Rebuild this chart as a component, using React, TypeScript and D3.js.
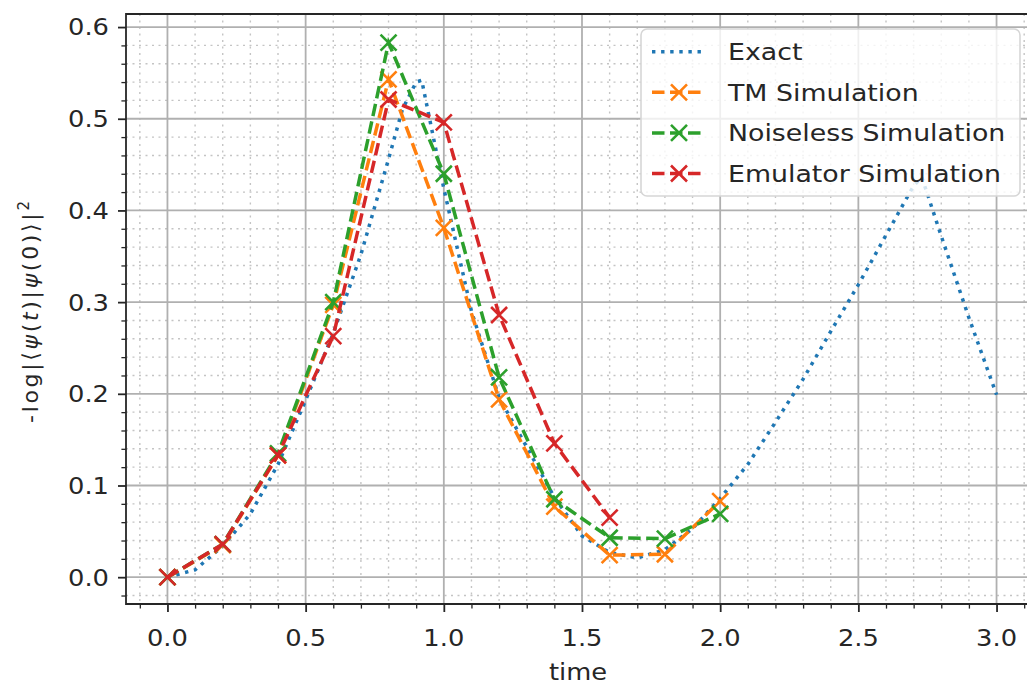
import { useEffect, useRef } from 'react'
import * as d3 from 'd3'

// ── Data ──────────────────────────────────────────────────────────────────────
const SIM_TIME = [0, 0.2, 0.4, 0.6, 0.8, 1.0, 1.2, 1.4, 1.6, 1.8, 2.0]
const TM_VALUES = [0, 0.035, 0.133, 0.297, 0.543, 0.381, 0.194, 0.077, 0.024, 0.025, 0.083]
const NOISELESS_VALUES = [0, 0.036, 0.135, 0.3, 0.583, 0.44, 0.218, 0.085, 0.043, 0.042, 0.069]
const EMULATOR_VALUES = [0, 0.036, 0.133, 0.263, 0.521, 0.496, 0.286, 0.146, 0.065]

const EXACT_TIME = [
  0, 0.1, 0.2, 0.3, 0.4, 0.5, 0.6, 0.7, 0.8, 0.85, 0.9, 0.92, 1.0, 1.1, 1.2, 1.3, 1.4,
  1.5, 1.6, 1.7, 1.8, 1.9, 2.0, 2.1, 2.2, 2.3, 2.4, 2.5, 2.6, 2.7, 2.73, 2.8, 2.9, 3.0,
]
const EXACT_VALUES = [
  0, 0.008, 0.034, 0.069, 0.123, 0.193, 0.266, 0.352, 0.456, 0.51, 0.54, 0.542, 0.424,
  0.29, 0.196, 0.142, 0.087, 0.045, 0.027, 0.021, 0.03, 0.053, 0.086, 0.123, 0.169,
  0.216, 0.268, 0.319, 0.373, 0.427, 0.436, 0.372, 0.283, 0.199,
]

const X_TICKS = [0, 0.5, 1.0, 1.5, 2.0, 2.5, 3.0]
const Y_TICKS = [0, 0.1, 0.2, 0.3, 0.4, 0.5, 0.6]
const X_MINOR = d3.range(-1, 32).map((i) => i / 10).filter((v) => Math.round(v * 10) % 5 !== 0)
const Y_MINOR = d3.range(-1, 31).map((i) => i / 50).filter((v) => Math.round(v * 50) % 5 !== 0)

const SERIES = [
  { label: 'Exact', color: '#1f77b4', dash: '3.4,5.7', marker: false, t: EXACT_TIME, v: EXACT_VALUES },
  { label: 'TM Simulation', color: '#ff7f0e', dash: '12.5,5.5', marker: true, t: SIM_TIME, v: TM_VALUES },
  { label: 'Noiseless Simulation', color: '#2ca02c', dash: '12.5,5.5', marker: true, t: SIM_TIME, v: NOISELESS_VALUES },
  { label: 'Emulator Simulation', color: '#d62728', dash: '12.5,5.5', marker: true, t: SIM_TIME, v: EMULATOR_VALUES },
]

const W = 1027
const H = 686
const M = { left: 126, right: 1038, top: 14, bottom: 604 }
const FONT = 'DejaVu Sans, sans-serif'
const FS = 23
const SX = 1.12 // the reference glyphs are a bit wider than tall
const INK = '#262626'
const LW = 3.5

const xMark = (s: number) => `M${-s},${-s}L${s},${s}M${-s},${s}L${s},${-s}`

export default function App() {
  const svgRef = useRef<SVGSVGElement>(null)

  useEffect(() => {
    const svg = d3.select(svgRef.current)
    svg.selectAll('*').remove()

    const x = d3.scaleLinear().domain([-0.15, 3.15]).range([M.left, M.right])
    const y = d3.scaleLinear().domain([-0.02925, 0.61425]).range([M.bottom, M.top])

    svg.append('rect').attr('width', W).attr('height', H).attr('fill', '#fff')

    const text = (g: any, tx: number, ty: number, str: string, anchor = 'start', sx = SX) =>
      g.append('text')
        .attr('transform', `translate(${tx},${ty}) scale(${sx},1)`)
        .attr('text-anchor', anchor)
        .attr('font-family', FONT).attr('font-size', FS).attr('fill', INK)
        .text(str)

    // ── Grid ──────────────────────────────────────────────────────────────────
    const grid = svg.append('g')
    X_MINOR.forEach((v) => {
      grid.append('line').attr('x1', x(v)).attr('x2', x(v)).attr('y1', M.top).attr('y2', M.bottom)
        .attr('stroke', '#c4c4c4').attr('stroke-width', 1.4).attr('stroke-dasharray', '2,4.5')
    })
    Y_MINOR.forEach((v) => {
      grid.append('line').attr('y1', y(v)).attr('y2', y(v)).attr('x1', M.left).attr('x2', M.right)
        .attr('stroke', '#c4c4c4').attr('stroke-width', 1.4).attr('stroke-dasharray', '2,4.5')
    })
    X_TICKS.forEach((v) => {
      grid.append('line').attr('x1', x(v)).attr('x2', x(v)).attr('y1', M.top).attr('y2', M.bottom)
        .attr('stroke', '#b0b0b0').attr('stroke-width', 1.8)
    })
    Y_TICKS.forEach((v) => {
      grid.append('line').attr('y1', y(v)).attr('y2', y(v)).attr('x1', M.left).attr('x2', M.right)
        .attr('stroke', '#b0b0b0').attr('stroke-width', 1.8)
    })

    // ── Series ────────────────────────────────────────────────────────────────
    const plot = svg.append('g')
    SERIES.forEach((s) => {
      const pts = s.v.map((v, i) => [s.t[i], v] as [number, number])
      const line = d3.line<[number, number]>().x((d) => x(d[0])).y((d) => y(d[1]))
      plot.append('path').attr('d', line(pts)).attr('fill', 'none')
        .attr('stroke', s.color).attr('stroke-width', LW).attr('stroke-dasharray', s.dash)
      if (s.marker) {
        pts.forEach((d) => {
          plot.append('path').attr('d', xMark(8))
            .attr('transform', `translate(${x(d[0])},${y(d[1])})`)
            .attr('fill', 'none').attr('stroke', s.color).attr('stroke-width', 2.6)
        })
      }
    })

    // ── Axes ──────────────────────────────────────────────────────────────────
    const axes = svg.append('g')
    const xAxis = axes.append('g').attr('transform', `translate(0,${M.bottom})`)
      .call(d3.axisBottom(x).tickValues(X_TICKS).tickSize(8))
    xAxis.select('.domain').remove()
    xAxis.selectAll('line').attr('stroke', INK).attr('stroke-width', 1.8)
    xAxis.selectAll('text').remove()
    X_TICKS.forEach((v) => text(axes, x(v), 646, d3.format('.1f')(v), 'middle'))

    const xMinor = axes.append('g').attr('transform', `translate(0,${M.bottom})`)
      .call(d3.axisBottom(x).tickValues(X_MINOR).tickSize(4.6).tickFormat(() => ''))
    xMinor.select('.domain').remove()
    xMinor.selectAll('line').attr('stroke', INK).attr('stroke-width', 1.3)

    const yAxis = axes.append('g').attr('transform', `translate(${M.left},0)`)
      .call(d3.axisLeft(y).tickValues(Y_TICKS).tickSize(8))
    yAxis.select('.domain').remove()
    yAxis.selectAll('line').attr('stroke', INK).attr('stroke-width', 1.8)
    yAxis.selectAll('text').remove()
    Y_TICKS.forEach((v) => text(axes, 109, y(v) + 8.4, d3.format('.1f')(v), 'end'))

    const yMinor = axes.append('g').attr('transform', `translate(${M.left},0)`)
      .call(d3.axisLeft(y).tickValues(Y_MINOR).tickSize(4.6).tickFormat(() => ''))
    yMinor.select('.domain').remove()
    yMinor.selectAll('line').attr('stroke', INK).attr('stroke-width', 1.3)

    // spines (the right one falls outside the cropped picture)
    axes.append('path')
      .attr('d', `M${M.right},${M.top}H${M.left}V${M.bottom}H${M.right}`)
      .attr('fill', 'none').attr('stroke', INK).attr('stroke-width', 1.8)

    // ── Labels ────────────────────────────────────────────────────────────────
    text(svg, 578, 680, 'time', 'middle')

    const yl = svg.append('text')
      .attr('transform', `translate(38,${(M.top + M.bottom) / 2 + 3}) rotate(-90)`)
      .attr('text-anchor', 'middle')
      .attr('font-family', FONT).attr('font-size', 22).attr('fill', INK)
      .attr('textLength', 222).attr('lengthAdjust', 'spacing')
    yl.append('tspan').text('-log|⟨')
    yl.append('tspan').attr('font-style', 'italic').text('ψ')
    yl.append('tspan').text('(')
    yl.append('tspan').attr('font-style', 'italic').text('t')
    yl.append('tspan').text(')|')
    yl.append('tspan').attr('font-style', 'italic').text('ψ')
    yl.append('tspan').text('(0)⟩|')
    yl.append('tspan').attr('font-size', 15).attr('dy', -9).text('2')

    // ── Legend ────────────────────────────────────────────────────────────────
    const legend = svg.append('g')
    legend.append('rect')
      .attr('x', 641).attr('y', 29).attr('width', 379).attr('height', 167).attr('rx', 6)
      .attr('fill', '#fff').attr('fill-opacity', 0.8)
      .attr('stroke', '#d6d6d6').attr('stroke-width', 1.6)
    SERIES.forEach((s, i) => {
      const ry = 51.7 + i * 40.6
      legend.append('line').attr('x1', 652).attr('x2', 706).attr('y1', ry).attr('y2', ry)
        .attr('stroke', s.color).attr('stroke-width', LW).attr('stroke-dasharray', s.dash)
      if (s.marker) {
        legend.append('path').attr('d', xMark(8)).attr('transform', `translate(679,${ry})`)
          .attr('fill', 'none').attr('stroke', s.color).attr('stroke-width', 2.6)
      }
      text(legend, 728, ry + 8.4, s.label, 'start', 1.165)
    })
  }, [])

  return (
    <div style={{ position: 'absolute', left: 0, top: 0 }}>
      <svg ref={svgRef} width={W} height={H} style={{ display: 'block' }} />
    </div>
  )
}
